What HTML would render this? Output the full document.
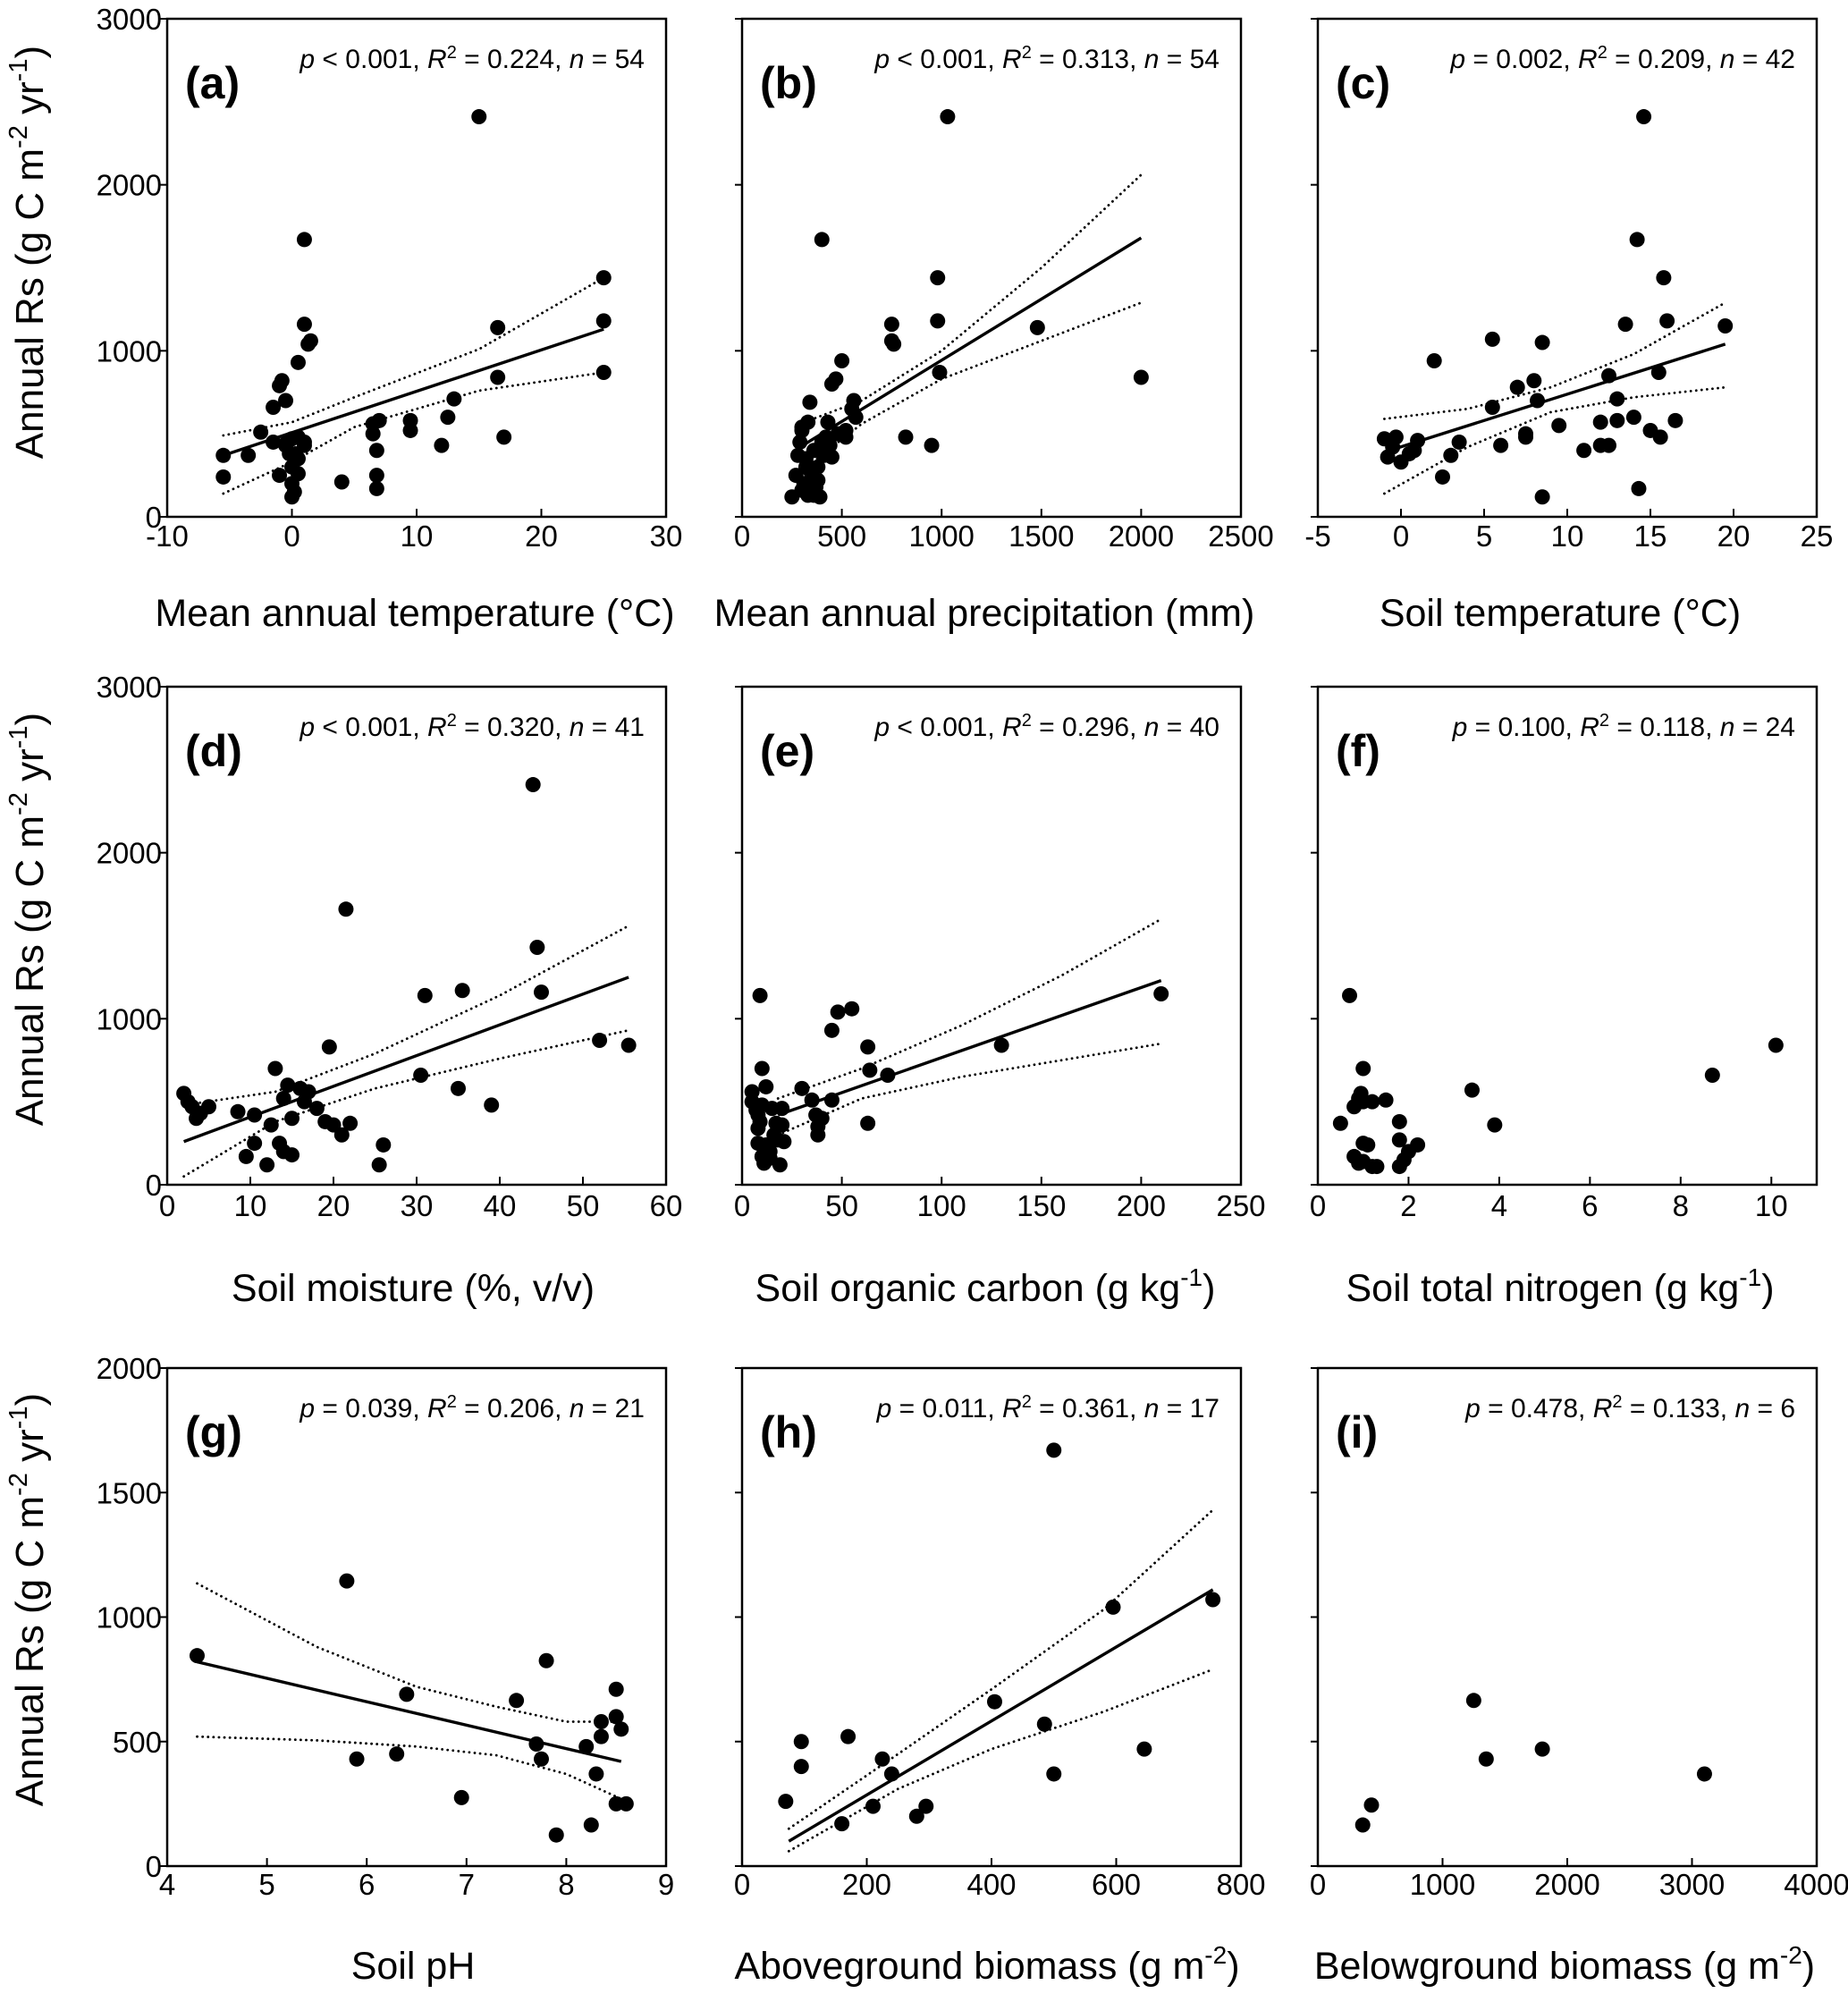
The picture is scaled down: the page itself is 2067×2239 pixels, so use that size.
<!DOCTYPE html>
<html><head><meta charset="utf-8"><style>
html,body{margin:0;padding:0;background:#fff;}
svg{display:block;font-family:"Liberation Sans",Arial,sans-serif;}
</style></head><body>
<svg id="fig" width="2067" height="2239" viewBox="0 0 2067 2239" xmlns="http://www.w3.org/2000/svg"></svg>
<script>
// ---------- data ----------
const aX=[-5.5,-5.5,-3.5,-2.5,-1.5,-1.5,-1,-0.8,-0.5,-1,-0.5,0,0,0,0.2,0.5,0.3,0.5,1,1,1.5,1.3,0.5,0.5,1,4,6.5,6.5,6.8,6.8,6.8,7,9.5,9.5,12,12.5,13,15,16.5,16.5,17,25,25,25,-0.5,0,1,-0.2];
const aY=[370,240,370,510,450,660,790,820,700,250,430,300,200,120,150,480,380,260,1670,1160,1060,1040,930,350,430,210,500,560,400,250,170,580,580,520,430,600,710,2410,1140,840,480,1440,1180,870,440,470,450,380];
const aFitX=[-5.5,25],aFitY=[370,1130];
const aCiX=[-5.5,0,5,15,25],aCiHi=[490,570,720,1010,1440],aCiLo=[140,330,540,760,870];

const bX=[250,270,280,290,300,310,320,330,340,350,360,370,380,390,400,410,420,430,440,450,470,500,520,550,560,570,340,400,300,450,380,360,320,300,750,750,760,820,950,980,980,990,1030,1480,2000,430,480,330,520];
const bY=[120,250,370,450,520,200,350,130,280,240,400,180,300,120,450,370,480,570,430,800,830,940,520,650,700,600,690,1670,540,360,220,130,300,160,1160,1060,1040,480,430,1440,1180,870,2410,1140,840,420,500,570,480];
const bFitX=[290,2000],bFitY=[420,1680];
const bCiX=[290,600,1000,1500,2000],bCiHi=[560,700,1000,1500,2060],bCiLo=[270,560,830,1060,1290];

const cX=[-1,-0.5,-0.3,0,0.5,1,0.8,2,2.5,3,3.5,5.5,5.5,6,7,7.5,8,8.2,8.5,8.5,9.5,11,12,12.5,12.5,13,13,13.5,14,14.2,14.3,14.6,15,15.6,15.5,15.8,16,16.5,19.5,-0.8,12,7.5];
const cY=[470,420,480,330,380,460,400,940,240,370,450,660,1070,430,780,480,820,700,1050,120,550,400,430,430,850,710,580,1160,600,1670,170,2410,520,480,870,1440,1180,580,1150,360,570,500];
const cFitX=[-1,19.5],cFitY=[390,1040];
const cCiX=[-1,4,9,14,19.5],cCiHi=[590,650,780,980,1290],cCiLo=[140,420,630,720,780];

const dX=[2,2.5,3,3.5,4,5,8.5,9.5,10.5,10.5,12,12.5,13,13.5,14,14,14.5,15,15,16,16.5,17,18,19,19.5,20,21,21.5,22,25.5,26,30.5,31,35,35.5,39,44,44.5,45,52,55.5];
const dY=[550,500,470,400,430,470,440,170,420,250,120,360,700,250,200,520,600,180,400,580,500,560,460,380,830,360,300,1660,370,120,240,660,1140,580,1170,480,2410,1430,1160,870,840];
const dFitX=[2,55.5],dFitY=[260,1250];
const dCiX=[2,13,25,40,55.5],dCiHi=[480,560,790,1140,1560],dCiLo=[50,380,580,760,930];

const eX=[5,5,7,8,9,10,9,8,10,11,12,12,14,15,16,17,18,19,20,21,30,35,37,38,38,45,45,48,55,63,64,63,73,130,210,10,14,20,8,40];
const eY=[500,560,450,420,380,700,1140,250,170,130,590,240,200,460,300,370,270,120,360,260,580,510,420,350,300,510,930,1040,1060,830,690,370,660,840,1150,480,160,460,340,400];
const eFitX=[18,210],eFitY=[420,1230];
const eCiX=[18,60,110,160,210],eCiHi=[520,700,960,1260,1600],eCiLo=[300,520,650,750,850];

const fX=[0.5,0.7,0.8,0.9,0.95,1,1,1.2,1.5,0.8,0.9,1,1,1.1,1.2,1.3,1.8,1.8,1.8,1.9,2.0,2.2,3.4,3.9,8.7,10.1];
const fY=[370,1140,470,520,550,700,500,500,510,170,130,250,140,240,110,110,380,270,110,150,200,240,570,360,660,840];

const gX=[4.3,5.8,5.9,6.3,6.4,6.95,7.5,7.7,7.75,7.8,7.9,8.2,8.25,8.3,8.35,8.35,8.5,8.5,8.5,8.55,8.6];
const gY=[845,1145,430,450,690,275,665,490,430,825,125,480,165,370,580,520,250,710,600,550,250];
const gFitX=[4.3,8.55],gFitY=[820,420];
const gCiX=[4.3,5.5,6.5,7.3,8,8.55],gCiHi=[1135,880,720,640,580,580],gCiLo=[520,505,480,445,370,270];

const hX=[70,95,95,160,170,210,225,240,280,295,405,485,500,500,595,645,755];
const hY=[260,500,400,170,520,240,430,370,200,240,660,570,1670,370,1040,470,1070];
const hFitX=[75,755],hFitY=[100,1110];
const hCiX=[75,250,400,580,755],hCiHi=[150,450,710,1030,1430],hCiLo=[60,310,470,620,790];

const iX=[360,430,1250,1350,1800,3100];
const iY=[165,245,665,430,470,370];

// ---------- layout ----------
const NS="http://www.w3.org/2000/svg";
const svg=document.getElementById('fig');
function mk(tag,attrs,parent){const e=document.createElementNS(NS,tag);for(const k in attrs)e.setAttribute(k,attrs[k]);(parent||svg).appendChild(e);return e;}

const colX=[187,830,1474], W=558;
const rowY=[21,768,1530], H=557;
const panels=[
 {id:'a',r:0,c:0,xd:[-10,30],xt:[-10,0,10,20,30],yd:[0,3000],yt:[0,1000,2000,3000],x:aX,y:aY,fx:aFitX,fy:aFitY,cx:aCiX,chi:aCiHi,clo:aCiLo,stat:['p',' < 0.001, ','R','2',' = 0.224, ','n',' = 54'],title:'Mean annual temperature (°C)',tc:464},
 {id:'b',r:0,c:1,xd:[0,2500],xt:[0,500,1000,1500,2000,2500],yd:[0,3000],yt:[0,1000,2000,3000],x:bX,y:bY,fx:bFitX,fy:bFitY,cx:bCiX,chi:bCiHi,clo:bCiLo,stat:['p',' < 0.001, ','R','2',' = 0.313, ','n',' = 54'],title:'Mean annual precipitation (mm)',tc:1101},
 {id:'c',r:0,c:2,xd:[-5,25],xt:[-5,0,5,10,15,20,25],yd:[0,3000],yt:[0,1000,2000,3000],x:cX,y:cY,fx:cFitX,fy:cFitY,cx:cCiX,chi:cCiHi,clo:cCiLo,stat:['p',' = 0.002, ','R','2',' = 0.209, ','n',' = 42'],title:'Soil temperature (°C)',tc:1745},
 {id:'d',r:1,c:0,xd:[0,60],xt:[0,10,20,30,40,50,60],yd:[0,3000],yt:[0,1000,2000,3000],x:dX,y:dY,fx:dFitX,fy:dFitY,cx:dCiX,chi:dCiHi,clo:dCiLo,stat:['p',' < 0.001, ','R','2',' = 0.320, ','n',' = 41'],title:'Soil moisture (%, v/v)',tc:462},
 {id:'e',r:1,c:1,xd:[0,250],xt:[0,50,100,150,200,250],yd:[0,3000],yt:[0,1000,2000,3000],x:eX,y:eY,fx:eFitX,fy:eFitY,cx:eCiX,chi:eCiHi,clo:eCiLo,stat:['p',' < 0.001, ','R','2',' = 0.296, ','n',' = 40'],title:'Soil organic carbon (g kg',sup:'-1',tc:1102},
 {id:'f',r:1,c:2,xd:[0,11],xt:[0,2,4,6,8,10],yd:[0,3000],yt:[0,1000,2000,3000],x:fX,y:fY,stat:['p',' = 0.100, ','R','2',' = 0.118, ','n',' = 24'],title:'Soil total nitrogen (g kg',sup:'-1',tc:1745},
 {id:'g',r:2,c:0,xd:[4,9],xt:[4,5,6,7,8,9],yd:[0,2000],yt:[0,500,1000,1500,2000],x:gX,y:gY,fx:gFitX,fy:gFitY,cx:gCiX,chi:gCiHi,clo:gCiLo,stat:['p',' = 0.039, ','R','2',' = 0.206, ','n',' = 21'],title:'Soil pH',tc:462},
 {id:'h',r:2,c:1,xd:[0,800],xt:[0,200,400,600,800],yd:[0,2000],yt:[0,500,1000,1500,2000],x:hX,y:hY,fx:hFitX,fy:hFitY,cx:hCiX,chi:hCiHi,clo:hCiLo,stat:['p',' = 0.011, ','R','2',' = 0.361, ','n',' = 17'],title:'Aboveground biomass (g m',sup:'-2',tc:1104},
 {id:'i',r:2,c:2,xd:[0,4000],xt:[0,1000,2000,3000,4000],yd:[0,2000],yt:[0,500,1000,1500,2000],x:iX,y:iY,stat:['p',' = 0.478, ','R','2',' = 0.133, ','n',' = 6'],title:'Belowground biomass (g m',sup:'-2',tc:1750},
];
const tickLabY=[611,1360,2119], titleY=[700,1455,2213];

panels.forEach(p=>{
  const x0=colX[p.c], y0=rowY[p.r];
  const sx=v=>x0+(v-p.xd[0])/(p.xd[1]-p.xd[0])*W;
  const sy=v=>y0+H-(v-p.yd[0])/(p.yd[1]-p.yd[0])*H;
  const g=mk('g',{});
  
  
  const fr=mk('rect',{x:x0,y:y0,width:W,height:H,fill:'none',stroke:'#000','stroke-width':2.5},g);
  
  
  p.xt.forEach(t=>{
    const X=sx(t);
    const tk=mk('line',{x1:X,x2:X,y1:y0+H,y2:y0+H-9,stroke:'#000','stroke-width':2},g);
    
    
    const lb=mk('text',{x:X,y:tickLabY[p.r],'text-anchor':'middle','font-size':33,fill:'#000'},g);
    
    
    lb.textContent=String(t);
  });
  p.yt.forEach(t=>{
    const Y=sy(t);
    const tk=mk('line',{x1:x0-8,x2:x0,y1:Y,y2:Y,stroke:'#000','stroke-width':2},g);
    
    
    if(p.c===0){
      const lb=mk('text',{x:x0-6,y:Y+12,'text-anchor':'end','font-size':33,fill:'#000'},g);
      
      
      lb.textContent=String(t);
    }
  });
  if(p.cx){
    [p.chi,p.clo].forEach((arr,k)=>{
      const d=p.cx.map((v,i)=>(i?'L':'M')+sx(v).toFixed(1)+' '+sy(arr[i]).toFixed(1)).join(' ');
      const pa=mk('path',{d:d,fill:'none',stroke:'#000','stroke-width':2.8,'stroke-dasharray':'0.1 6','stroke-linecap':'round'},g);
      
      
    });
  }
  if(p.fx){
    const ln=mk('line',{x1:sx(p.fx[0]),y1:sy(p.fy[0]),x2:sx(p.fx[1]),y2:sy(p.fy[1]),stroke:'#000','stroke-width':3.4},g);
    
    
  }
  p.x.forEach((v,i)=>{
    const c=mk('circle',{cx:sx(v),cy:sy(p.y[i]),r:8.5,fill:'#000'},g);
    
    
  });
  const pl=mk('text',{x:x0+20,y:y0+89,'font-size':50,'font-weight':'bold',fill:'#000'},g);
  
  
  pl.textContent='('+p.id+')';
  const st=mk('text',{x:x0+W-24,y:y0+55,'text-anchor':'end','font-size':30,fill:'#000'},g);
  
  
  p.stat.forEach((s,i)=>{
    const ts=mk('tspan',{},st);
    if(i===0||i===2||i===5) ts.setAttribute('font-style','italic');
    if(i===3){ts.setAttribute('font-size','20');ts.setAttribute('dy','-11');}
    if(i===4){ts.setAttribute('dy','11');}
    ts.textContent=s;
  });
  const xt=mk('text',{x:p.tc,y:titleY[p.r],'text-anchor':'middle','font-size':43,fill:'#000'},g);
  
  
  const t1=mk('tspan',{},xt);t1.textContent=p.title;
  if(p.sup){
    const t2=mk('tspan',{'font-size':28,dy:-17},xt);t2.textContent=p.sup;
    const t3=mk('tspan',{dy:17},xt);t3.textContent=')';
  }
});
[282,1028,1789].forEach((cy,r)=>{
  const t=mk('text',{x:0,y:0,transform:'translate(48,'+cy+') rotate(-90)','text-anchor':'middle','font-size':44,fill:'#000'});
  
  
  const a=mk('tspan',{},t);a.textContent='Annual Rs (g C m';
  const b=mk('tspan',{'font-size':29,dy:-18},t);b.textContent='-2';
  const c=mk('tspan',{dy:18},t);c.textContent=' yr';
  const d=mk('tspan',{'font-size':29,dy:-18},t);d.textContent='-1';
  const e=mk('tspan',{dy:18},t);e.textContent=')';
});
</script>
</body></html>
